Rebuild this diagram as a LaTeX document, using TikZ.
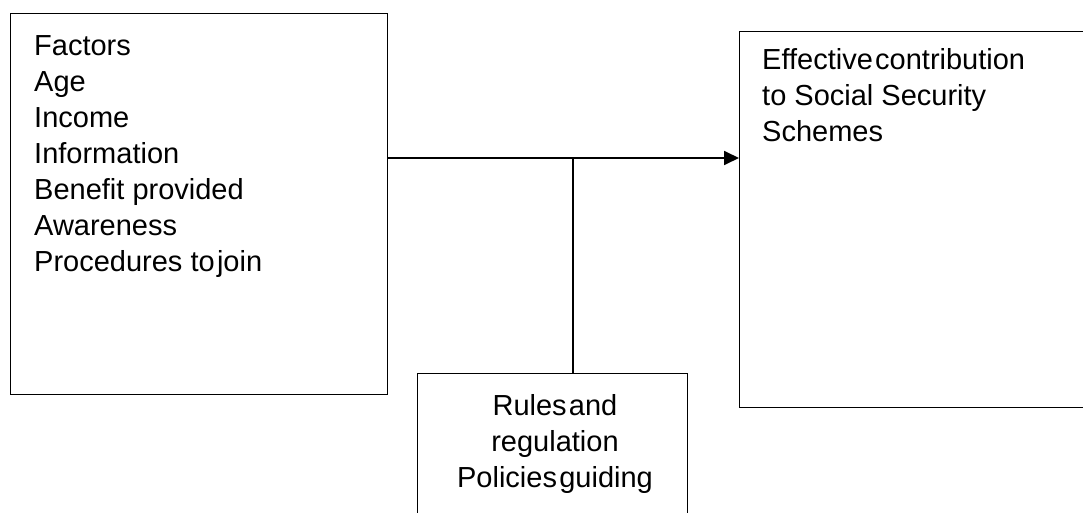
\documentclass[tikz,border=0pt]{standalone}
\usepackage{fontspec}
\setmainfont{Liberation Sans}
\usetikzlibrary{arrows.meta}
\newcommand{\tsp}{\hspace{0.08em}}
\begin{document}
\begin{tikzpicture}[x=1pt,y=-1pt,
  box/.style={draw, line width=1.2pt, inner sep=0pt, anchor=north west},
  txt/.style={inner sep=0pt, anchor=base west, font=\fontsize{29pt}{36pt}\selectfont},
  conn/.style={line width=1.8pt},
  arr/.style={conn, -{Triangle[length=15pt,width=14pt]}}]
\useasboundingbox (0,0) rectangle (1083,513);
\fill[white] (0,0) rectangle (1083,513);
\node[box, minimum width=377pt, minimum height=381pt] (L) at (10,13) {};
\node[box, minimum width=360pt, minimum height=376pt] (R) at (739,31) {};
\node[box, minimum width=270pt, minimum height=160pt] (B) at (417,373) {};
% base anchor of a multi-line node is the baseline of its last line
\node[txt, align=left] (Lt) at (34,271) {Factors\\Age\\Income\\Information\\Benefit provided\\Awareness\\Procedures to\tsp join};
\node[txt, align=left] (Rt) at (762,142) {Effective\tsp contribution\\to Social Security\\Schemes};
\node[txt, align=center, anchor=base] (Bt) at (555,487) {Rules\tsp and\\regulation\\Policies\tsp guiding};
\coordinate (J) at (573,158);
\draw[arr] (L.east |- J) -- (R.west |- J);
\draw[line width=1.4pt] (J) -- (B.north -| J);
\end{tikzpicture}
\end{document}
